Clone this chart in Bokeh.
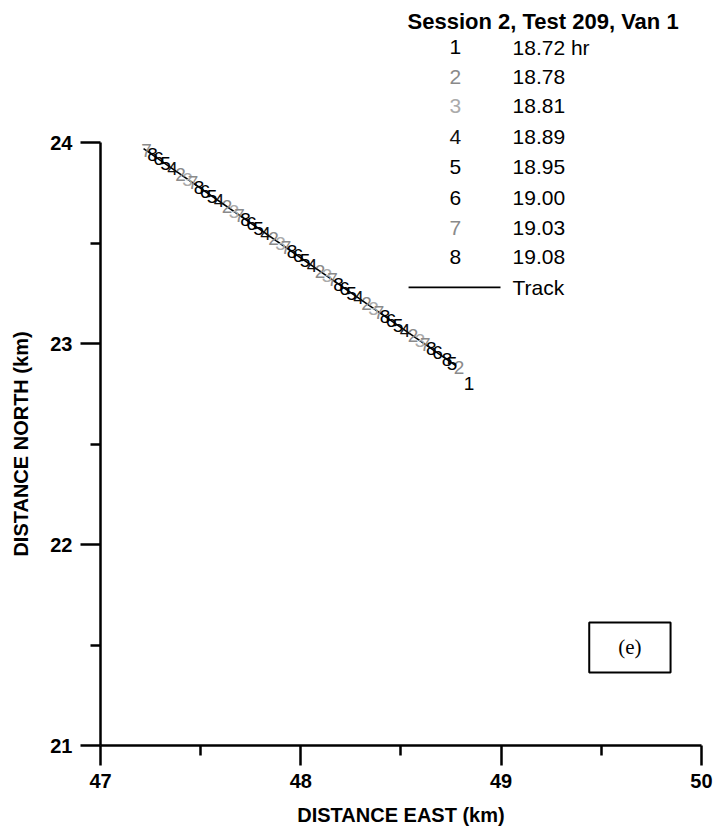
import math
from bokeh.plotting import figure
from bokeh.models import FixedTicker, Label, BoxAnnotation, Range1d
from bokeh.core.properties import value
from bokeh.embed import file_html
from bokeh.resources import INLINE

# ---- data ----
track_x = [47.215, 48.772]
track_y = [23.970, 22.891]

d1_x = [48.84]
d1_y = [22.80]
d2_x = [47.40, 47.632, 47.864, 48.096, 48.328, 48.56, 48.79]
d2_y = [23.842, 23.681, 23.520, 23.360, 23.199, 23.038, 22.879]
d3_x = [47.435, 47.667, 47.899, 48.131, 48.363, 48.595]
d3_y = [23.818, 23.657, 23.496, 23.336, 23.175, 23.014]
d4_x = [47.36, 47.592, 47.824, 48.056, 48.288, 48.52]
d4_y = [23.870, 23.709, 23.548, 23.388, 23.227, 23.066]
d5_x = [47.325, 47.557, 47.789, 48.021, 48.253, 48.485, 48.755]
d5_y = [23.894, 23.733, 23.572, 23.412, 23.251, 23.090, 22.903]
d6_x = [47.29, 47.522, 47.754, 47.986, 48.218, 48.45, 48.682]
d6_y = [23.918, 23.757, 23.596, 23.436, 23.275, 23.114, 22.953]
d7_x = [47.23, 47.462, 47.694, 47.926, 48.158, 48.39, 48.622]
d7_y = [23.960, 23.799, 23.638, 23.478, 23.317, 23.156, 22.995]
d8_x = [47.26, 47.492, 47.724, 47.956, 48.188, 48.42, 48.652, 48.73]
d8_y = [23.939, 23.778, 23.617, 23.457, 23.296, 23.135, 22.974, 22.920]

legend_digits = ["1", "2", "3", "4", "5", "6", "7", "8"]
legend_times = ["18.72 hr", "18.78", "18.81", "18.89", "18.95", "19.00", "19.03", "19.08"]
legend_title = "Session 2, Test 209, Van 1"

x_ticks = [47, 48, 49, 50]
x_minor = [47.5, 48.5, 49.5]
y_ticks = [21, 22, 23, 24]
y_minor = [21.5, 22.5, 23.5]

digit_colors = {"1": "#000000", "2": "#8a8a8a", "3": "#ababab", "4": "#111111",
                "5": "#000000", "6": "#000000", "7": "#8a8a8a", "8": "#000000"}

FONT = "Liberation Sans"

# The plotting frame covers the whole canvas; the axes are pinned at x=47 / y=21
p = figure(width=713, height=832, title=None,
           x_range=Range1d(46.5007, 50.0604), y_range=Range1d(20.5672, 24.7065),
           output_backend="svg", toolbar_location=None,
           min_border_left=0, min_border_right=0, min_border_top=0, min_border_bottom=0)
p.outline_line_color = None
p.grid.visible = False
p.background_fill_color = "white"
p.border_fill_color = "white"

p.xaxis.fixed_location = 21
p.yaxis.fixed_location = 47
for ax, major, minor, bnds in ((p.xaxis[0], x_ticks, x_minor, (47, 50)),
                               (p.yaxis[0], y_ticks, y_minor, (21, 24))):
    ax.ticker = FixedTicker(ticks=major, minor_ticks=minor)
    ax.bounds = bnds
    ax.axis_line_width = 2.5
    ax.axis_line_color = "black"
    ax.major_tick_line_width = 2.5
    ax.minor_tick_line_width = 2.5
    ax.major_tick_out = 20
    ax.major_tick_in = 0
    ax.minor_tick_out = 10
    ax.minor_tick_in = 0
    ax.major_label_text_font = FONT
    ax.major_label_text_font_style = "bold"
    ax.major_label_text_font_size = "20px"
    ax.major_label_text_color = "black"
    ax.major_label_standoff = 8

# axis titles
p.add_layout(Label(x=48.5, y=20.652, text="DISTANCE EAST (km)", text_font=FONT,
                   text_font_style="bold", text_font_size="20px", text_align="center",
                   text_baseline="middle", text_color="black"))
p.add_layout(Label(x=46.6006, y=22.5, text="DISTANCE NORTH (km)", text_font=FONT,
                   text_font_style="bold", text_font_size="20px", text_align="center",
                   text_baseline="middle", angle=math.pi / 2, text_color="black"))

# track
p.line(track_x, track_y, line_color="black", line_width=1.6)

series = [("1", d1_x, d1_y), ("2", d2_x, d2_y), ("3", d3_x, d3_y), ("4", d4_x, d4_y),
          ("5", d5_x, d5_y), ("6", d6_x, d6_y), ("7", d7_x, d7_y), ("8", d8_x, d8_y)]
for dig, xs, ys in series:
    p.text(x=xs, y=ys, text=[dig] * len(xs), text_font=value(FONT),
           text_font_size="19px", text_align="center", text_baseline="middle",
           text_color=digit_colors[dig])

# legend (top right)
p.add_layout(Label(x=48.533, y=24.602, text=legend_title, text_font=FONT,
                   text_font_style="bold", text_font_size="22px",
                   text_baseline="middle", text_color="black"))
row_y = [24.473, 24.328, 24.184, 24.025, 23.876, 23.726, 23.577, 23.428]
for dig, t, ry in zip(legend_digits, legend_times, row_y):
    p.add_layout(Label(x=48.772, y=ry, text=dig, text_font=FONT, text_font_size="21px",
                       text_align="center", text_baseline="middle",
                       text_color=digit_colors[dig]))
    p.add_layout(Label(x=49.057, y=ry, text=t, text_font=FONT, text_font_size="21px",
                       text_baseline="middle", text_color="black"))
p.line([48.538, 48.997], [23.279, 23.279], line_color="black", line_width=1.8)
p.add_layout(Label(x=49.057, y=23.279, text="Track", text_font=FONT, text_font_size="21px",
                   text_baseline="middle", text_color="black"))

# panel label box
p.add_layout(BoxAnnotation(left=49.44, right=49.846, bottom=21.363, top=21.612,
                           fill_color=None, fill_alpha=0, line_color="black",
                           line_alpha=1.0, line_width=2))
p.add_layout(Label(x=49.643, y=21.488, text="(e)", text_font="Liberation Serif",
                   text_font_size="21px", text_align="center", text_baseline="middle",
                   text_color="black"))

open("out.html", "w").write(file_html(p, INLINE))
